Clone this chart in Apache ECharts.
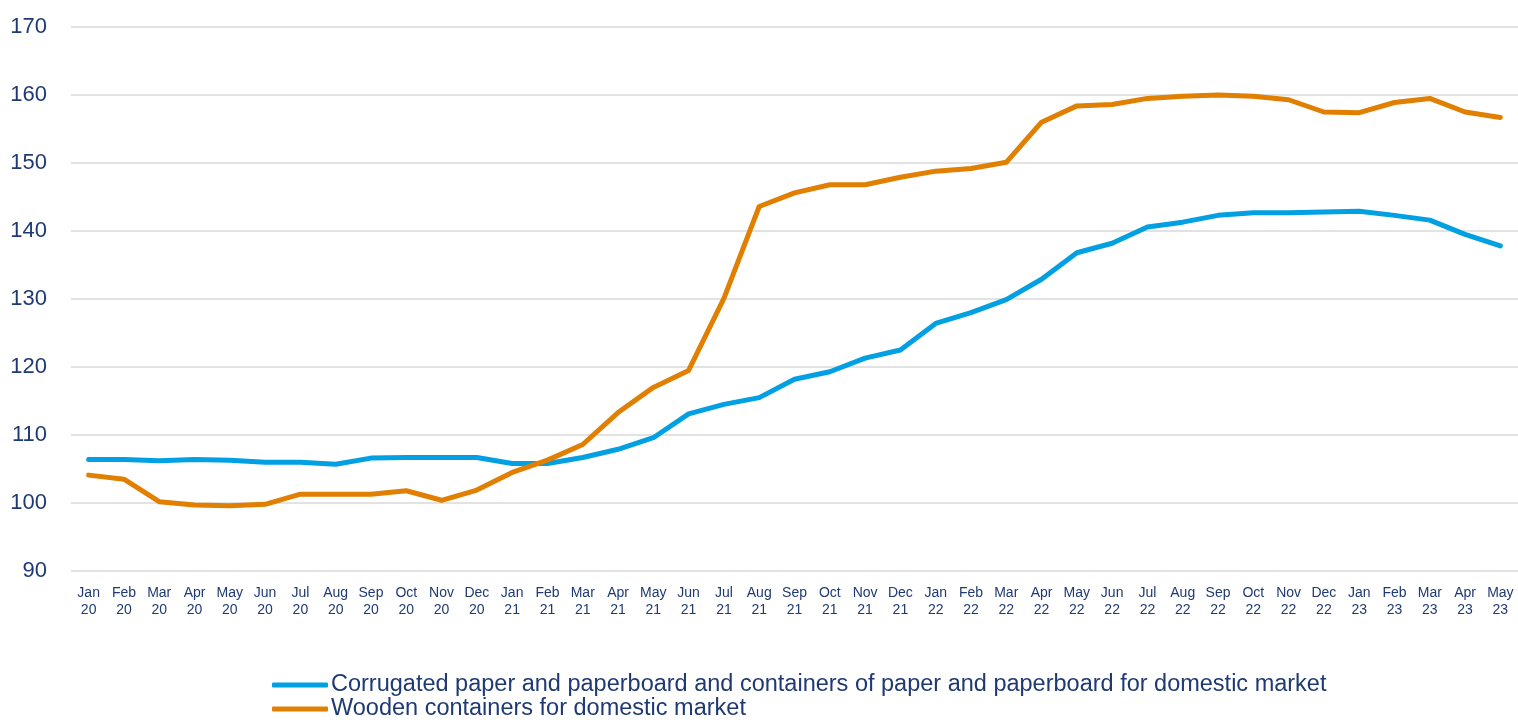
<!DOCTYPE html>
<html>
<head>
<meta charset="utf-8">
<script src="https://cdn.jsdelivr.net/npm/echarts@6/dist/echarts.min.js"></script>
<style>
html,body{margin:0;padding:0;background:#fff;}
#chart{width:1518px;height:720px;}
</style>
</head>
<body>
<div id="chart"></div>
<script>
const categories = ["Jan 20","Feb 20","Mar 20","Apr 20","May 20","Jun 20","Jul 20","Aug 20","Sep 20","Oct 20","Nov 20","Dec 20",
"Jan 21","Feb 21","Mar 21","Apr 21","May 21","Jun 21","Jul 21","Aug 21","Sep 21","Oct 21","Nov 21","Dec 21",
"Jan 22","Feb 22","Mar 22","Apr 22","May 22","Jun 22","Jul 22","Aug 22","Sep 22","Oct 22","Nov 22","Dec 22",
"Jan 23","Feb 23","Mar 23","Apr 23","May 23"];
const corrugated = [106.4,106.4,106.2,106.4,106.3,106.0,106.0,105.7,106.6,106.7,106.7,106.7,
105.8,105.8,106.7,107.9,109.6,113.1,114.5,115.5,118.2,119.3,121.3,122.5,
126.4,128.0,129.9,132.9,136.8,138.2,140.6,141.3,142.3,142.7,142.7,142.8,
142.9,142.3,141.6,139.5,137.8];
const wooden = [104.1,103.5,100.2,99.7,99.6,99.8,101.3,101.3,101.3,101.8,100.4,101.9,
104.5,106.3,108.6,113.3,117.0,119.5,130.1,143.6,145.6,146.8,146.8,147.9,
148.8,149.2,150.1,156.0,158.4,158.6,159.5,159.8,160.0,159.8,159.3,157.5,
157.4,158.9,159.5,157.5,156.7];
const seriesNames = ["Corrugated paper and paperboard and containers of paper and paperboard for domestic market","Wooden containers for domestic market"];
const yMin = 90, yMax = 170, yStep = 10;

const textColor = '#1f3a72';
const chart = echarts.init(document.getElementById('chart'));
chart.setOption({
  animation:false,
  textStyle:{fontFamily:'Liberation Sans, Arial, sans-serif'},
  grid:{left:71,right:0,top:27,bottom:149,containLabel:false},
  legend:{
    orient:'vertical',left:272,top:673,itemGap:0,padding:0,height:80,
    itemWidth:56,itemHeight:5,icon:'roundRect',
    textStyle:{fontSize:23.5,color:textColor,lineHeight:24,padding:[0,0,0,-2]},
    data:seriesNames
  },
  xAxis:{
    type:'category',data:categories,boundaryGap:true,
    axisLine:{show:false},axisTick:{show:false},
    axisLabel:{interval:0,fontSize:14,color:textColor,lineHeight:17,margin:14,
      formatter:v=>v.replace(' ','\n')}
  },
  yAxis:{
    type:'value',min:yMin,max:yMax,interval:yStep,
    axisLine:{show:false},axisTick:{show:false},
    axisLabel:{fontSize:22,color:textColor,margin:24},
    splitLine:{lineStyle:{color:'#d9d9d9',width:1.5}}
  },
  series:[
    {name:seriesNames[0],type:'line',data:corrugated,showSymbol:false,symbol:'none',
      lineStyle:{color:'#00a0e3',width:5,cap:'round',join:'round'},itemStyle:{color:'#00a0e3'}},
    {name:seriesNames[1],type:'line',data:wooden,showSymbol:false,symbol:'none',
      lineStyle:{color:'#e07f00',width:5,cap:'round',join:'round'},itemStyle:{color:'#e07f00'}}
  ]
});
</script>
</body>
</html>
